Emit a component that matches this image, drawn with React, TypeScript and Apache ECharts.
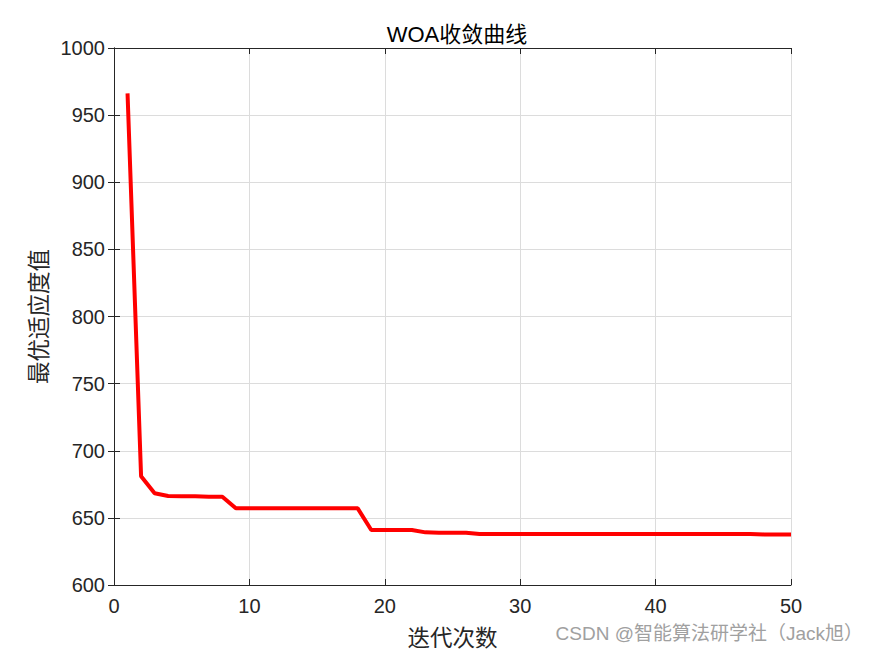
import React, { useEffect, useRef } from "react";
import * as echarts from "echarts";

const iterations: number[] = Array.from({ length: 50 }, (_, i) => i + 1);
const fitness: number[] = [
  966.2, 681.0, 668.3, 666.3, 666.2, 666.1, 665.8, 665.8, 657.1, 657.1,
  657.1, 657.1, 657.1, 657.1, 657.1, 657.1, 657.1, 657.1, 641.0, 641.0,
  641.0, 641.0, 639.2, 639.0, 639.0, 639.0, 638.0, 638.0, 638.0, 638.0,
  638.0, 638.0, 638.0, 638.0, 638.0, 638.0, 638.0, 638.0, 638.0, 638.0,
  638.0, 638.0, 638.0, 638.0, 638.0, 638.0, 638.0, 637.7, 637.7, 637.7,
];
const titleText = "WOA收敛曲线";
const xName = "迭代次数";
const yName = "最优适应度值";
const watermark = "CSDN @智能算法研学社（Jack旭）";

const numFont = "'Liberation Sans', Arial, sans-serif";
const cjkFont = "'Noto Sans CJK SC', sans-serif";

export default function App() {
  const ref = useRef<HTMLDivElement>(null);
  useEffect(() => {
    document.body.style.margin = "0";
    const chart = echarts.init(ref.current!, null, { renderer: "svg" });
    const axisLine = { show: true, lineStyle: { color: "#262626", width: 1 } };
    const tick = { show: true, inside: true, length: 6, lineStyle: { color: "#262626" } };
    const split = { show: true, lineStyle: { color: "#dcdcdc", width: 1 } };
    chart.setOption({
      animation: false,
      backgroundColor: "#ffffff",
      title: {
        text: titleText,
        left: 452,
        textAlign: "center",
        top: 18,
        textStyle: { fontFamily: `'Liberation Sans', 'Noto Sans CJK SC', sans-serif`, fontSize: 22, fontWeight: "normal", color: "#000" },
      },
      graphic: [
        {
          type: "text",
          right: 12,
          top: 624,
          style: { text: watermark, fontFamily: `'Liberation Sans', 'Noto Sans CJK SC', sans-serif`, fontSize: 19, fill: "#a0a0a0" },
        },
      ],
      grid: { left: 114, right: 84, top: 48, bottom: 71, show: false },
      xAxis: [
        {
          type: "value",
          min: 0,
          max: 50,
          interval: 10,
          position: "bottom",
          name: xName,
          nameLocation: "middle",
          nameGap: 40,
          nameTextStyle: { fontFamily: cjkFont, fontSize: 22.5, color: "#262626" },
          axisLine,
          axisTick: tick,
          splitLine: split,
          axisLabel: { fontFamily: numFont, fontSize: 20, color: "#262626", margin: 11 },
        },
        {
          type: "value",
          min: 0,
          max: 50,
          interval: 10,
          position: "top",
          axisLine,
          axisTick: tick,
          splitLine: { show: false },
          axisLabel: { show: false },
        },
      ],
      yAxis: [
        {
          type: "value",
          min: 600,
          max: 1000,
          interval: 50,
          position: "left",
          name: yName,
          nameLocation: "middle",
          nameGap: 66,
          nameRotate: 90,
          nameTextStyle: { fontFamily: cjkFont, fontSize: 22.5, color: "#262626" },
          axisLine,
          axisTick: tick,
          splitLine: split,
          axisLabel: { fontFamily: numFont, fontSize: 20, color: "#262626", margin: 9, formatter: (v: number) => String(v) },
        },
        {
          type: "value",
          min: 600,
          max: 1000,
          interval: 50,
          position: "right",
          axisLine,
          axisTick: tick,
          splitLine: { show: false },
          axisLabel: { show: false },
        },
      ],
      series: [
        {
          type: "line",
          data: iterations.map((it, i) => [it, fitness[i]]),
          showSymbol: false,
          symbol: "none",
          lineStyle: { color: "#ff0000", width: 4 },
          xAxisIndex: 0,
          yAxisIndex: 0,
        },
      ],
    });
    return () => chart.dispose();
  }, []);
  return <div ref={ref} style={{ position: "fixed", left: 0, top: 0, width: 875, height: 656 }} />;
}
